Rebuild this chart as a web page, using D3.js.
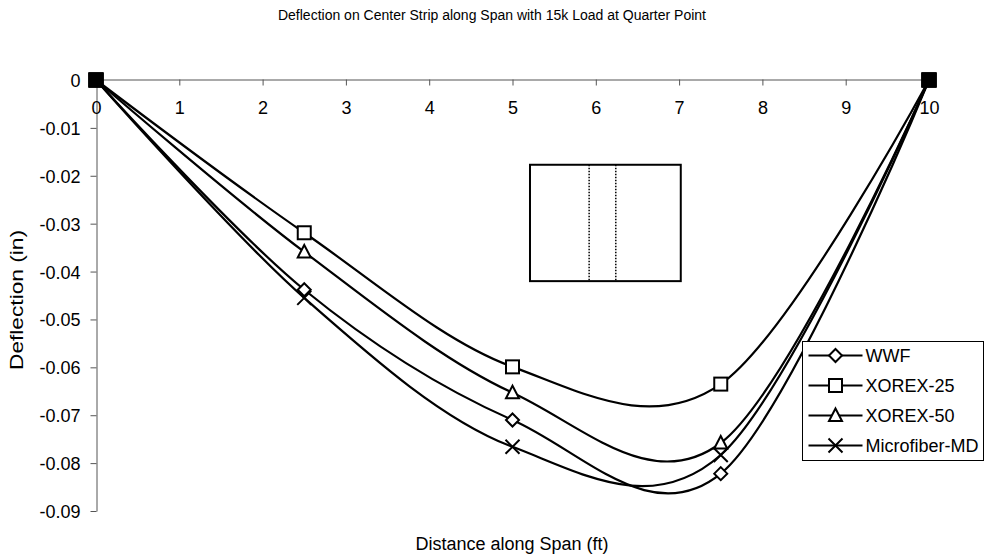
<!DOCTYPE html>
<html>
<head>
<meta charset="utf-8">
<script src="https://cdn.jsdelivr.net/npm/d3@7"></script>
<style>
  body { margin: 0; background: #fff; }
  svg { display: block; font-family: "Liberation Sans", Arial, sans-serif; }
</style>
</head>
<body>
<div id="chart"></div>
<script>
const distances = [0, 2.5, 5, 7.5, 10];
const seriesNames = ['WWF', 'XOREX-25', 'XOREX-50', 'Microfiber-MD'];
const wwf = [0, -0.0438, -0.0710, -0.0822, 0];
const xorex25 = [0, -0.0319, -0.0599, -0.0635, 0];
const xorex50 = [0, -0.0359, -0.0653, -0.0758, 0];
const microfiber = [0, -0.0455, -0.0766, -0.0783, 0];
const xTicks = [0, 1, 2, 3, 4, 5, 6, 7, 8, 9, 10];
const yTicks = [0, -0.01, -0.02, -0.03, -0.04, -0.05, -0.06, -0.07, -0.08, -0.09];
// slab sketch: outline and center strip edges, in chart units
const insetX = [5.21, 7.02];
const insetY = [-0.0177, -0.0420];
const stripX = [5.92, 6.24];

const width = 984, height = 558;
const markerTypes = ['diamond', 'square', 'triangle', 'cross'];

const series = seriesNames.map((name, i) => ({
  name,
  marker: markerTypes[i],
  values: [wwf, xorex25, xorex50, microfiber][i].map((v, j) => ({ x: distances[j], y: v })),
}));

const svg = d3.select('#chart').append('svg')
  .attr('width', width).attr('height', height);

const x = d3.scaleLinear().domain([0, 10]).range([96, 929]);
const y = d3.scaleLinear().domain([0, -0.09]).range([80, 511]);

// title
svg.append('text')
  .attr('x', 492).attr('y', 20)
  .attr('text-anchor', 'middle').attr('font-size', 14)
  .text('Deflection on Center Strip along Span with 15k Load at Quarter Point');

// y axis
const yAxis = svg.append('g')
  .attr('transform', `translate(${x(0) + 0.5},0)`)
  .call(d3.axisLeft(y).tickValues(yTicks).tickSize(6).tickSizeOuter(0)
    .tickFormat(d => d === 0 ? '0' : d3.format('.2f')(d).replace('−', '-')));
yAxis.attr('font-family', null).attr('font-size', 18);
yAxis.select('.domain').attr('stroke', '#555');
yAxis.selectAll('.tick line').attr('stroke', '#555');
yAxis.selectAll('.tick text').attr('fill', '#000').attr('x', -16).attr('dy', '0.36em');

// x axis at zero
const xAxis = svg.append('g')
  .attr('transform', `translate(0,${y(0) - 0.5})`)
  .call(d3.axisBottom(x).tickValues(xTicks).tickSize(6).tickSizeOuter(0).tickFormat(d3.format('d')));
xAxis.attr('font-family', null).attr('font-size', 18);
xAxis.select('.domain').attr('stroke', '#555');
xAxis.selectAll('.tick line').attr('stroke', '#555');
xAxis.selectAll('.tick text').attr('fill', '#000').attr('dy', null).attr('y', 34);

// axis titles
svg.append('text')
  .attr('transform', `translate(23,300) rotate(-90)`)
  .attr('text-anchor', 'middle').attr('font-size', 18)
  .attr('textLength', 140).attr('lengthAdjust', 'spacingAndGlyphs')
  .text('Deflection (in)');
svg.append('text')
  .attr('x', 512).attr('y', 550)
  .attr('text-anchor', 'middle').attr('font-size', 18)
  .text('Distance along Span (ft)');

// slab sketch
svg.append('rect')
  .attr('x', x(insetX[0])).attr('y', y(insetY[0]))
  .attr('width', x(insetX[1]) - x(insetX[0]))
  .attr('height', y(insetY[1]) - y(insetY[0]))
  .attr('fill', 'none').attr('stroke', '#000').attr('stroke-width', 2);
svg.selectAll('line.strip').data(stripX).join('line')
  .attr('class', 'strip')
  .attr('x1', d => x(d)).attr('x2', d => x(d))
  .attr('y1', y(insetY[0])).attr('y2', y(insetY[1]))
  .attr('stroke', '#000').attr('stroke-width', 1.5).attr('stroke-dasharray', '1.5,1.5');

// lines
const line = d3.line().x(d => x(d.x)).y(d => y(d.y)).curve(d3.curveCardinal.tension(0));

function drawMarker(sel, type) {
  if (type === 'square') {
    sel.append('rect').attr('x', -6.5).attr('y', -6.5).attr('width', 13).attr('height', 13)
      .attr('fill', '#fff').attr('stroke', '#000').attr('stroke-width', 2);
  } else if (type === 'diamond') {
    sel.append('path').attr('d', 'M0,-6.5L6.5,0L0,6.5L-6.5,0Z')
      .attr('fill', '#fff').attr('stroke', '#000').attr('stroke-width', 2);
  } else if (type === 'triangle') {
    sel.append('path').attr('d', 'M0,-7L6.5,5.5L-6.5,5.5Z')
      .attr('fill', '#fff').attr('stroke', '#000').attr('stroke-width', 2);
  } else {
    sel.append('path').attr('d', 'M-7,-7L7,7M-7,7L7,-7')
      .attr('fill', 'none').attr('stroke', '#000').attr('stroke-width', 2);
  }
}

series.forEach(s => {
  svg.append('path').datum(s.values)
    .attr('d', line).attr('fill', 'none')
    .attr('stroke', '#000').attr('stroke-width', 2.2);
});
series.forEach(s => {
  s.values.forEach(p => {
    const g = svg.append('g').attr('transform', `translate(${x(p.x)},${y(p.y)})`);
    if (p.y === 0) {
      // all four series meet at the supports: markers pile up into a solid block
      g.append('rect').attr('x', -7.5).attr('y', -7.5).attr('width', 15).attr('height', 15).attr('fill', '#000');
    } else {
      drawMarker(g, s.marker);
    }
  });
});

// legend
const legend = svg.append('g').attr('transform', 'translate(802.5,341.5)');
legend.append('rect').attr('width', 181).attr('height', 119)
  .attr('fill', '#fff').attr('stroke', '#000').attr('stroke-width', 1);
series.forEach((s, i) => {
  const ly = 14 + i * 30;
  const g = legend.append('g').attr('transform', `translate(0,${ly})`);
  g.append('line').attr('x1', 6).attr('x2', 60).attr('stroke', '#000').attr('stroke-width', 2.2);
  drawMarker(g.append('g').attr('transform', 'translate(33,0)'), s.marker);
  g.append('text').attr('x', 63).attr('y', 6.5).attr('font-size', 18).text(s.name);
});
</script>
</body>
</html>
